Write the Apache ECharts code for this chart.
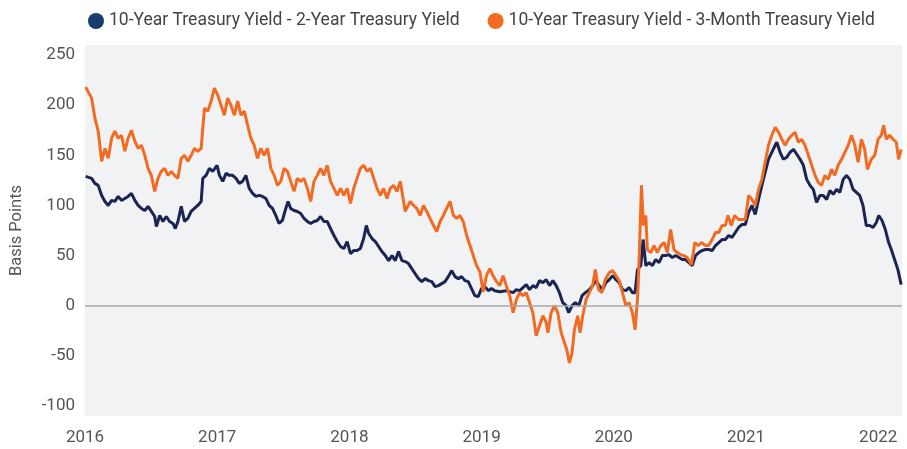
<!DOCTYPE html>
<html>
<head>
<meta charset="utf-8">
<script src="https://cdn.jsdelivr.net/npm/echarts@6/dist/echarts.min.js"></script>
<style>
  html, body { margin: 0; padding: 0; background: #fff; }
  #chart { width: 907px; height: 449px; }
</style>
</head>
<body>
<div id="chart"></div>
<script>
// 10Y - 2Y spread, basis points (time in decimal years)
const t2y = [
  2016.005, 2016.050, 2016.075, 2016.100, 2016.126, 2016.151, 2016.176, 2016.201, 2016.226, 2016.251,
  2016.276, 2016.301, 2016.326, 2016.351, 2016.377, 2016.402, 2016.427, 2016.452, 2016.477, 2016.502,
  2016.527, 2016.540, 2016.565, 2016.590, 2016.615, 2016.640, 2016.665, 2016.683, 2016.703, 2016.728,
  2016.753, 2016.778, 2016.803, 2016.828, 2016.853, 2016.879, 2016.891, 2016.916, 2016.941, 2016.966,
  2016.999, 2017.017, 2017.042, 2017.067, 2017.092, 2017.117, 2017.142, 2017.167, 2017.192, 2017.217,
  2017.242, 2017.268, 2017.293, 2017.318, 2017.343, 2017.368, 2017.393, 2017.418, 2017.443, 2017.468,
  2017.493, 2017.519, 2017.536, 2017.556, 2017.581, 2017.606, 2017.632, 2017.657, 2017.682, 2017.707,
  2017.732, 2017.757, 2017.782, 2017.807, 2017.832, 2017.857, 2017.883, 2017.908, 2017.933, 2017.958,
  2017.983, 2018.008, 2018.033, 2018.058, 2018.083, 2018.108, 2018.128, 2018.146, 2018.171, 2018.196,
  2018.221, 2018.246, 2018.272, 2018.297, 2018.322, 2018.347, 2018.372, 2018.397, 2018.422, 2018.447,
  2018.472, 2018.497, 2018.523, 2018.548, 2018.573, 2018.598, 2018.623, 2018.648, 2018.673, 2018.698,
  2018.723, 2018.748, 2018.774, 2018.799, 2018.824, 2018.849, 2018.874, 2018.899, 2018.924, 2018.949,
  2018.974, 2018.999, 2019.025, 2019.050, 2019.075, 2019.100, 2019.138, 2019.187, 2019.238, 2019.263,
  2019.288, 2019.313, 2019.338, 2019.363, 2019.388, 2019.413, 2019.438, 2019.464, 2019.489, 2019.514,
  2019.539, 2019.564, 2019.589, 2019.614, 2019.639, 2019.659, 2019.684, 2019.709, 2019.735, 2019.760,
  2019.785, 2019.815, 2019.840, 2019.865, 2019.890, 2019.915, 2019.940, 2019.966, 2019.991, 2020.016,
  2020.041, 2020.066, 2020.091, 2020.116, 2020.141, 2020.161, 2020.179, 2020.204, 2020.222, 2020.242,
  2020.267, 2020.292, 2020.317, 2020.342, 2020.367, 2020.392, 2020.417, 2020.442, 2020.468, 2020.493,
  2020.518, 2020.543, 2020.568, 2020.593, 2020.618, 2020.643, 2020.668, 2020.693, 2020.718, 2020.744,
  2020.769, 2020.794, 2020.819, 2020.844, 2020.869, 2020.894, 2020.919, 2020.944, 2020.970, 2020.995,
  2021.020, 2021.045, 2021.070, 2021.095, 2021.120, 2021.145, 2021.170, 2021.195, 2021.221, 2021.233,
  2021.258, 2021.283, 2021.308, 2021.333, 2021.359, 2021.384, 2021.409, 2021.434, 2021.459, 2021.484,
  2021.509, 2021.534, 2021.559, 2021.584, 2021.610, 2021.635, 2021.660, 2021.685, 2021.710, 2021.735,
  2021.760, 2021.785, 2021.810, 2021.835, 2021.860, 2021.885, 2021.910, 2021.936, 2021.961, 2021.986,
  2022.004, 2022.029, 2022.054, 2022.079, 2022.099, 2022.124, 2022.149, 2022.174
];
const spread2y = [
  129, 127, 122, 120, 110, 104, 100, 105, 104, 109,
  105, 107, 109, 112, 105, 100, 97, 95, 99, 94,
  89, 79, 90, 84, 89, 84, 82, 77, 84, 99,
  84, 87, 94, 97, 100, 104, 127, 130, 137, 134,
  140, 130, 124, 132, 130, 130, 127, 122, 124, 130,
  117, 112, 109, 110, 109, 107, 100, 97, 90, 82,
  85, 97, 104, 97, 95, 94, 92, 87, 84, 82,
  84, 85, 89, 84, 84, 77, 70, 64, 59, 57,
  64, 52, 55, 55, 57, 67, 80, 72, 67, 64,
  59, 54, 50, 45, 50, 45, 54, 45, 44, 42,
  37, 32, 27, 24, 27, 25, 24, 19, 20, 22,
  24, 29, 35, 29, 27, 29, 25, 24, 17, 10,
  9, 17, 19, 15, 17, 15, 14, 15, 13, 16,
  15, 18, 21, 16, 20, 18, 25, 23, 26, 20,
  25, 20, 13, 3, 0, -7, 0, 3, 0, 10,
  13, 16, 20, 25, 20, 16, 23, 26, 30, 26,
  23, 16, 15, 18, 13, 13, 36, 40, 66, 40,
  43, 40, 46, 43, 50, 50, 51, 48, 50, 48,
  46, 46, 43, 40, 50, 53, 55, 56, 56, 55,
  60, 63, 66, 66, 70, 68, 73, 78, 81, 81,
  93, 100, 91, 106, 120, 133, 146, 153, 160, 163,
  153, 146, 148, 153, 156, 151, 146, 140, 126, 120,
  116, 103, 110, 110, 106, 115, 111, 116, 113, 126,
  130, 126, 116, 113, 110, 100, 80, 80, 78, 83,
  90, 85, 76, 63, 56, 46, 36, 21
];

// 10Y - 3M spread, basis points
const t3m = [
  2016.005, 2016.050, 2016.075, 2016.100, 2016.126, 2016.151, 2016.176, 2016.201, 2016.226, 2016.251,
  2016.276, 2016.301, 2016.326, 2016.351, 2016.377, 2016.402, 2016.427, 2016.452, 2016.477, 2016.502,
  2016.527, 2016.552, 2016.577, 2016.602, 2016.628, 2016.653, 2016.678, 2016.703, 2016.728, 2016.753,
  2016.778, 2016.803, 2016.828, 2016.853, 2016.879, 2016.891, 2016.904, 2016.929, 2016.954, 2016.979,
  2017.004, 2017.029, 2017.054, 2017.079, 2017.104, 2017.130, 2017.155, 2017.180, 2017.205, 2017.230,
  2017.255, 2017.280, 2017.305, 2017.330, 2017.355, 2017.381, 2017.406, 2017.431, 2017.456, 2017.481,
  2017.506, 2017.531, 2017.556, 2017.581, 2017.606, 2017.632, 2017.657, 2017.682, 2017.707, 2017.732,
  2017.757, 2017.782, 2017.807, 2017.832, 2017.857, 2017.883, 2017.908, 2017.933, 2017.958, 2017.983,
  2018.008, 2018.033, 2018.058, 2018.083, 2018.108, 2018.134, 2018.159, 2018.184, 2018.209, 2018.234,
  2018.259, 2018.284, 2018.309, 2018.334, 2018.359, 2018.385, 2018.410, 2018.422, 2018.460, 2018.485,
  2018.510, 2018.535, 2018.560, 2018.585, 2018.610, 2018.636, 2018.661, 2018.686, 2018.711, 2018.736,
  2018.761, 2018.786, 2018.811, 2018.836, 2018.861, 2018.887, 2018.912, 2018.937, 2018.962, 2018.987,
  2019.012, 2019.037, 2019.062, 2019.087, 2019.112, 2019.138, 2019.163, 2019.187, 2019.213, 2019.238,
  2019.263, 2019.288, 2019.313, 2019.338, 2019.363, 2019.388, 2019.413, 2019.438, 2019.464, 2019.489,
  2019.501, 2019.526, 2019.551, 2019.576, 2019.602, 2019.627, 2019.644, 2019.664, 2019.684, 2019.702,
  2019.727, 2019.745, 2019.765, 2019.790, 2019.815, 2019.840, 2019.860, 2019.885, 2019.910, 2019.935,
  2019.966, 2019.991, 2020.016, 2020.041, 2020.066, 2020.091, 2020.116, 2020.141, 2020.161, 2020.179,
  2020.191, 2020.209, 2020.224, 2020.242, 2020.254, 2020.279, 2020.304, 2020.329, 2020.355, 2020.380,
  2020.405, 2020.430, 2020.455, 2020.480, 2020.505, 2020.530, 2020.555, 2020.588, 2020.613, 2020.638,
  2020.663, 2020.693, 2020.718, 2020.744, 2020.769, 2020.794, 2020.819, 2020.844, 2020.864, 2020.889,
  2020.914, 2020.944, 2020.970, 2020.995, 2021.020, 2021.045, 2021.070, 2021.095, 2021.120, 2021.145,
  2021.170, 2021.195, 2021.221, 2021.246, 2021.271, 2021.296, 2021.321, 2021.346, 2021.371, 2021.396,
  2021.421, 2021.446, 2021.472, 2021.497, 2021.522, 2021.547, 2021.572, 2021.597, 2021.622, 2021.647,
  2021.672, 2021.697, 2021.723, 2021.748, 2021.773, 2021.798, 2021.823, 2021.848, 2021.873, 2021.898,
  2021.918, 2021.948, 2021.974, 2021.999, 2022.024, 2022.041, 2022.061, 2022.086, 2022.112, 2022.137,
  2022.154, 2022.174
];
const spread3m = [
  218, 207, 187, 174, 144, 157, 147, 167, 174, 167,
  170, 154, 167, 175, 164, 157, 160, 150, 137, 130,
  114, 127, 134, 137, 130, 134, 130, 127, 147, 150,
  144, 150, 157, 154, 157, 177, 197, 194, 204, 217,
  210, 200, 190, 207, 200, 190, 204, 190, 194, 180,
  167, 160, 147, 157, 150, 157, 137, 130, 120, 124,
  137, 134, 124, 114, 127, 124, 127, 117, 104, 124,
  130, 137, 130, 140, 124, 117, 110, 117, 110, 117,
  102, 117, 127, 137, 140, 134, 137, 127, 117, 110,
  117, 107, 117, 120, 114, 124, 104, 94, 104, 100,
  97, 90, 100, 94, 87, 80, 74, 84, 90, 97,
  104, 90, 87, 90, 84, 70, 60, 50, 40, 34,
  14, 30, 37, 30, 24, 20, 30, 20, 10, -7,
  6, 13, 10, 13, 3, -7, -30, -20, -10, -17,
  -27, -7, 0, -7, -27, -37, -44, -57, -47, -24,
  -10, -27, -10, 6, 13, 20, 36, 16, 13, 26,
  33, 35, 30, 25, 13, 0, 3, -7, -24, 6,
  43, 120, 80, 90, 56, 53, 60, 53, 60, 63,
  53, 76, 56, 53, 51, 50, 48, 41, 63, 60,
  63, 60, 60, 66, 73, 73, 80, 80, 90, 80,
  90, 86, 86, 86, 110, 106, 100, 116, 126, 143,
  160, 170, 178, 173, 166, 160, 166, 170, 173, 163,
  166, 160, 150, 140, 130, 123, 120, 130, 126, 136,
  130, 140, 146, 153, 160, 170, 160, 143, 166, 156,
  136, 146, 150, 166, 170, 180, 166, 170, 166, 163,
  146, 156
];

const yearTicks = [2016, 2017, 2018, 2019, 2020, 2021, 2022];
const yTicks = [-100, -50, 0, 50, 100, 150, 200, 250];

const seriesNames = [
  "10-Year Treasury Yield - 2-Year Treasury Yield",
  "10-Year Treasury Yield - 3-Month Treasury Yield",
];
const colors = ["#1b2452", "#f26b22"];

function pairs(xs, ys) {
  return xs.map((x, i) => [x, ys[i]]);
}

var myChart = echarts.init(document.getElementById("chart"));

var option = {
  animation: false,
  textStyle: { fontFamily: "Roboto, 'Liberation Sans', sans-serif" },
  legend: {
    top: 7,
    left: 83,
    itemGap: 28,
    icon: "circle",
    itemWidth: 16,
    itemHeight: 16,
    textStyle: { color: "#444", fontSize: 17.5 },
    data: [
      { name: seriesNames[0], itemStyle: { color: "#163d6d" } },
      { name: seriesNames[1], itemStyle: { color: "#f26b22" } },
    ],
  },
  grid: {
    left: 81,
    right: 5,
    top: 45,
    bottom: 33,
    show: true,
    backgroundColor: "#f1f2f4",
    borderWidth: 0,
  },
  xAxis: {
    type: "value",
    min: 2016,
    max: 2022.18,
    interval: 1,
    axisLine: { show: false },
    axisTick: { show: false },
    splitLine: { show: false },
    axisLabel: {
      color: "#555",
      fontSize: 17,
      margin: 13,
      showMaxLabel: false,
      formatter: (v) => (yearTicks.includes(v) ? String(v) : ""),
    },
  },
  yAxis: {
    type: "value",
    min: -110,
    max: 260,
    interval: 10,
    name: "Basis Points",
    nameLocation: "middle",
    nameGap: 60,
    nameTextStyle: { color: "#555", fontSize: 16.5 },
    axisLine: { show: false },
    axisTick: { show: false },
    splitLine: { show: false },
    axisLabel: {
      color: "#555",
      fontSize: 17,
      margin: 10,
      interval: 0,
      formatter: (v) => (yTicks.includes(v) ? String(v) : ""),
    },
  },
  series: [
    {
      name: seriesNames[0],
      type: "line",
      data: pairs(t2y, spread2y),
      showSymbol: false,
      lineStyle: { color: colors[0], width: 3 },
      itemStyle: { color: colors[0] },
      markLine: {
        silent: true,
        symbol: "none",
        label: { show: false },
        lineStyle: { color: "#a8a8a8", width: 1.5, type: "solid" },
        data: [{ yAxis: 0 }],
      },
      z: 2,
    },
    {
      name: seriesNames[1],
      type: "line",
      data: pairs(t3m, spread3m),
      showSymbol: false,
      lineStyle: { color: colors[1], width: 3 },
      itemStyle: { color: colors[1] },
      z: 3,
    },
  ],
};

myChart.setOption(option);
</script>
</body>
</html>
